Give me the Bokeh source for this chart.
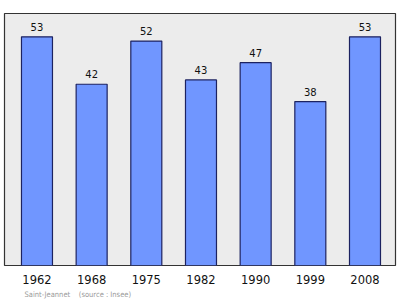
from bokeh.plotting import figure
from bokeh.models import ColumnDataSource, Title, FixedTicker, Range1d
from bokeh.core.properties import value
from bokeh.embed import file_html
from bokeh.resources import INLINE

# Population census of Saint-Jeannet
years = ["1962", "1968", "1975", "1982", "1990", "1999", "2008"]
population = [53, 42, 52, 43, 47, 38, 53]

xs = list(range(len(years)))
src = ColumnDataSource(dict(x=xs, top=population, lbl=[str(v) for v in population]))

p = figure(width=400, height=299, output_backend="svg", toolbar_location=None,
           x_range=Range1d(-0.594, 6.558), y_range=Range1d(0, 58.4),
           min_border_left=4, min_border_right=5, min_border_top=13,
           min_border_bottom=0, background_fill_color="#ececec",
           border_fill_color="white", outline_line_color="#333333",
           outline_line_width=1.2)

p.vbar(x="x", top="top", bottom=0, width=0.567, source=src,
       fill_color="#7096ff", line_color="#1c2260", line_width=1.2)

p.text(x="x", y="top", text="lbl", source=src, y_offset=-6,
       text_align="center", text_baseline="bottom",
       text_font=value("DejaVu Sans"), text_font_size="10px",
       text_color="#111111")

p.yaxis.visible = False
p.grid.visible = False
ax = p.xaxis[0]
ax.ticker = FixedTicker(ticks=xs)
ax.major_label_overrides = {i: y for i, y in enumerate(years)}
ax.axis_line_color = None
ax.major_tick_line_color = None
ax.minor_tick_line_color = None
ax.major_label_standoff = 3
ax.major_label_text_font = "DejaVu Sans"
ax.major_label_text_font_size = "11.5px"
ax.major_label_text_color = "#111111"

# source note under the axis labels
note = Title(text="Saint-Jeannet\u00a0\u00a0\u00a0\u00a0(source\u00a0:\u00a0Insee)",
             align="left", offset=20,
             text_font="DejaVu Sans Condensed", text_font_size="7.5px",
             text_font_style="normal", text_color="#9a9a9a", standoff=2)
p.add_layout(note, "below")

open("out.html", "w").write(file_html(p, INLINE))
